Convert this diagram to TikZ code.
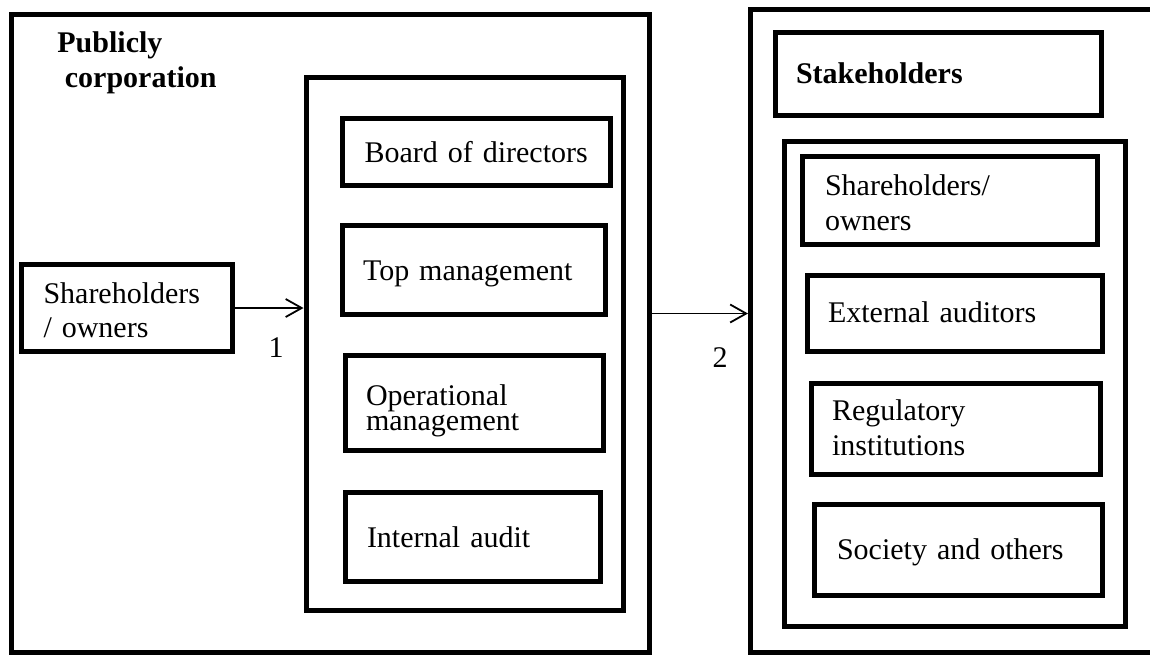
\documentclass[tikz,border=0pt]{standalone}
\usepackage{fontspec}
\setmainfont{Liberation Serif}
\usetikzlibrary{arrows.meta}

\begin{document}
\begin{tikzpicture}[x=0.5pt, y=-0.5pt,
  frame/.style={draw, line width=2.5pt, rectangle, inner sep=0pt},
  box/.style={frame, align=left, font=\fontsize{15pt}{17.5pt}\selectfont},
  boldbox/.style={box, font=\fontsize{15pt}{17.5pt}\selectfont\bfseries},
  plain/.style={inner sep=0pt, font=\fontsize{15pt}{17.5pt}\selectfont},
  conn/.style={line width=0.9pt, -{Straight Barb[length=8pt,width=9pt,line width=0.9pt]}}
]
\clip (0,0) rectangle (1150,655);
\fill[white] (0,0) rectangle (1150,655);

% ---- publicly held corporation ----
\node[frame, minimum width=318.75pt, minimum height=318.75pt] (corp) at (330.25,333.25) {};
\node[plain, anchor=base west, text width=100pt, align=left,
      font=\fontsize{15pt}{17.5pt}\selectfont\bfseries] (corptitle) at (57,52)
      {Publicly\\\hspace*{3.75pt}corporation};

\node[box, minimum width=105.5pt, minimum height=43.5pt, text width=83.5pt,
      text height=0pt, text depth=5pt, font=\fontsize{15pt}{17pt}\selectfont]
      (sh1) at (127,308) {Shareholders\\/ owners};

\node[frame, minimum width=158.75pt, minimum height=266.75pt] (mgmt) at (464.75,343.75) {};

\node[box, minimum width=134pt, minimum height=33.25pt, text width=112pt,
      text height=10.25pt, text depth=0pt] (board) at (476.5,151.75) {Board of directors};
\node[box, minimum width=131.5pt, minimum height=44.5pt, text width=111pt,
      text height=10pt, text depth=0pt] (top) at (474,270) {Top management};
\node[box, minimum width=128.75pt, minimum height=47.5pt, text width=108.25pt,
      text height=2pt, text depth=0pt, font=\fontsize{15pt}{12.5pt}\selectfont]
      (oper) at (474.25,403) {Operational\\management};
\node[box, minimum width=127.25pt, minimum height=44.5pt, text width=105.75pt,
      text height=10.5pt, text depth=0pt] (audit) at (472.75,536.5) {Internal audit};

% ---- stakeholders ----
\node[frame, minimum width=207.25pt, minimum height=321.5pt] (ext) at (957.75,330.5) {};

\node[boldbox, minimum width=163.25pt, minimum height=41.5pt, text width=142.25pt,
      text height=9.5pt, text depth=0pt] (stk) at (938.25,73.5) {Stakeholders};

\node[frame, minimum width=170.5pt, minimum height=242.5pt] (grp) at (955,383.5) {};

\node[box, minimum width=147.25pt, minimum height=43.75pt, text width=124.75pt,
      text height=0pt, text depth=5.25pt] (sh2) at (949.75,200.25) {Shareholders/\\owners};
\node[box, minimum width=147.5pt, minimum height=38pt, text width=126.5pt,
      text height=8.5pt, text depth=0pt] (extaud) at (954.5,313.5) {External auditors};
\node[box, minimum width=144.5pt, minimum height=45.75pt, text width=124pt,
      text height=0pt, text depth=8.75pt] (reg) at (956,428.75) {Regulatory\\institutions};
\node[box, minimum width=143.75pt, minimum height=45.75pt, text width=121.25pt,
      text height=9.25pt, text depth=0pt] (soc) at (958.25,549.75) {Society and others};

% ---- connectors ----
\draw[conn] (sh1.east) -- (sh1.east -| mgmt.west);
\node[plain] (n1) at (276,348) {1};
\draw[conn] (extaud -| corp.east) -- (extaud -| ext.west);
\node[plain] (n2) at (720,358) {2};
\end{tikzpicture}
\end{document}
